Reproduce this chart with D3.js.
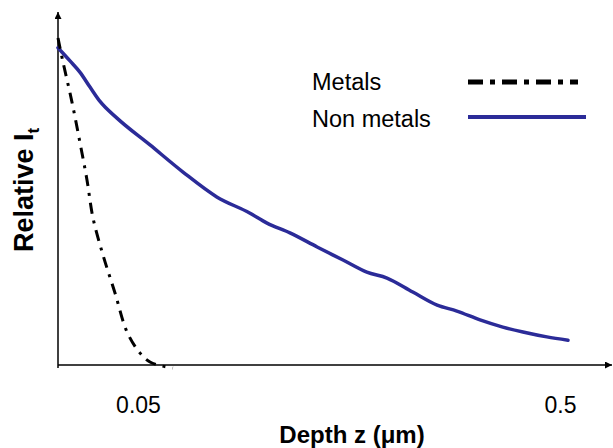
<!DOCTYPE html>
<html>
<head>
<meta charset="utf-8">
<script src="https://cdn.jsdelivr.net/npm/d3@7"></script>
<style>
  body { margin: 0; background: #fff; }
  svg { display: block; font-family: "Liberation Sans", Arial, sans-serif; }
</style>
</head>
<body>
<svg id="chart"></svg>
<script>
// depth z (um) and relative intensity
const metalsZ = [-0.0353, -0.030, -0.0204, -0.0118, -0.0044, 0.002, 0.0127, 0.0255, 0.0383, 0.052, 0.0628, 0.0756, 0.0873];
const metalsI = [1.0, 0.927, 0.804, 0.679, 0.566, 0.450, 0.336, 0.220, 0.101, 0.037, 0.009, -0.003, -0.009];

const nonMetalsZ = [-0.0353, -0.0225, -0.0118, -0.0012, 0.0095, 0.0276, 0.0628, 0.098, 0.134, 0.169, 0.1876, 0.212, 0.241, 0.2686, 0.294, 0.3155, 0.343, 0.369, 0.390, 0.4147, 0.439, 0.4605, 0.486, 0.5085];
const nonMetalsI = [0.97, 0.93, 0.895, 0.85, 0.806, 0.755, 0.673, 0.590, 0.514, 0.465, 0.434, 0.404, 0.361, 0.321, 0.284, 0.266, 0.223, 0.183, 0.165, 0.138, 0.116, 0.101, 0.086, 0.076];

const xTicks = [0.05, 0.5];
const xTickLabels = ["0.05", "0.5"];
const seriesNames = ["Metals", "Non metals"];
const seriesColors = ["#000000", "#2b2b98"];

const width = 613, height = 448;
const svg = d3.select("#chart").attr("width", width).attr("height", height);

// scales
const x = d3.scaleLinear().domain([-0.0353, 0.5565]).range([58, 613]);
const y = d3.scaleLinear().domain([0, 1]).range([365, 38]);

// arrow heads
const defs = svg.append("defs");
defs.append("marker")
    .attr("id", "arrow")
    .attr("viewBox", "0 0 10 10")
    .attr("refX", 10).attr("refY", 5)
    .attr("markerWidth", 7).attr("markerHeight", 7)
    .attr("markerUnits", "userSpaceOnUse")
    .attr("orient", "auto")
  .append("path")
    .attr("d", "M0,0L10,5L0,10z")
    .attr("fill", "#000");

// axes
const xAxis = d3.axisBottom(x)
    .tickValues(xTicks)
    .tickFormat((d, i) => xTickLabels[i])
    .tickSize(0)
    .tickPadding(32);
const gx = svg.append("g")
    .attr("transform", "translate(0," + y(0) + ")")
    .call(xAxis);
gx.select(".domain").remove();
gx.selectAll("text").attr("font-size", 23).attr("font-family", "Liberation Sans, Arial, sans-serif").attr("fill", "#000");

svg.append("line")
    .attr("x1", x.range()[0]).attr("x2", 612)
    .attr("y1", y(0)).attr("y2", y(0))
    .attr("stroke", "#000").attr("stroke-width", 1.5)
    .attr("marker-end", "url(#arrow)");
svg.append("line")
    .attr("x1", x.range()[0]).attr("x2", x.range()[0])
    .attr("y1", y(0) + 3).attr("y2", 12)
    .attr("stroke", "#000").attr("stroke-width", 1.5)
    .attr("marker-end", "url(#arrow)");

// axis titles
svg.append("text")
    .attr("x", 352).attr("y", 443)
    .attr("text-anchor", "middle")
    .attr("font-size", 24).attr("font-weight", "bold")
    .text("Depth z (\u03bcm)");

const yTitle = svg.append("text")
    .attr("transform", "translate(33,190) rotate(-90)")
    .attr("text-anchor", "middle")
    .attr("font-size", 27).attr("font-weight", "bold");
yTitle.append("tspan").text("Relative I");
yTitle.append("tspan").attr("font-size", 17).attr("dy", 6).text("t");

// lines
const line = d3.line().curve(d3.curveMonotoneX);

svg.append("path")
    .datum(nonMetalsZ.map((z, i) => [x(z), y(nonMetalsI[i])]))
    .attr("d", line)
    .attr("fill", "none")
    .attr("stroke", seriesColors[1])
    .attr("stroke-width", 3.5)
    .attr("stroke-linecap", "round");

svg.append("path")
    .datum(metalsZ.map((z, i) => [x(z), y(metalsI[i])]))
    .attr("d", d3.line().curve(d3.curveCatmullRom))
    .attr("fill", "none")
    .attr("stroke", seriesColors[0])
    .attr("stroke-width", 3)
    .attr("stroke-dasharray", "11,7,3,7");

// legend
const legend = svg.append("g");
const legendY = [90, 127];
seriesNames.forEach((name, i) => {
  legend.append("text")
      .attr("x", 312).attr("y", legendY[i])
      .attr("font-size", 23.5)
      .text(name);
  legend.append("line")
      .attr("x1", 468).attr("x2", i === 0 ? 578 : 586)
      .attr("y1", legendY[i] - 8 - (i === 0 ? 0 : 2)).attr("y2", legendY[i] - 8 - (i === 0 ? 0 : 2))
      .attr("stroke", seriesColors[i])
      .attr("stroke-width", i === 0 ? 5 : 4)
      .attr("stroke-dasharray", i === 0 ? "15,7,5,7" : null);
});
</script>
</body>
</html>
